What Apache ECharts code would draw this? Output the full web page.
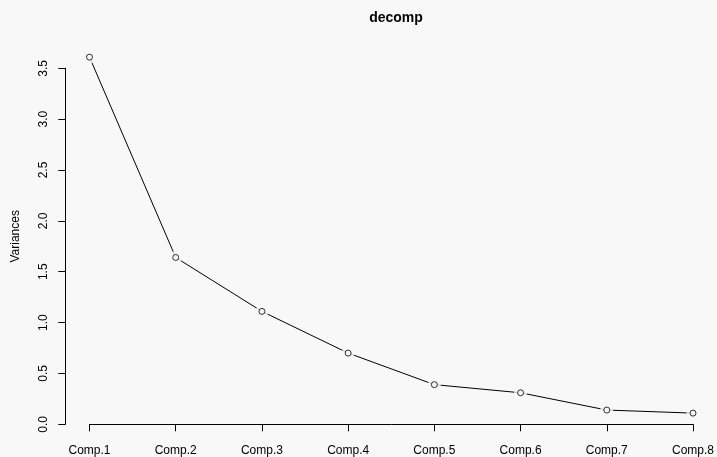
<!DOCTYPE html>
<html>
<head>
<meta charset="utf-8">
<script src="https://cdn.jsdelivr.net/npm/echarts@6/dist/echarts.min.js"></script>
<style>
html,body{margin:0;padding:0;background:#f8f8f8;}
#chart{width:717px;height:457px;}
</style>
</head>
<body>
<div id="chart"></div>
<script>
const chartTitle = 'decomp';
const yAxisName = 'Variances';
const categories = ['Comp.1','Comp.2','Comp.3','Comp.4','Comp.5','Comp.6','Comp.7','Comp.8'];
const variances = [3.61, 1.64, 1.11, 0.70, 0.39, 0.31, 0.14, 0.11];
const yTickValues = [0.0, 0.5, 1.0, 1.5, 2.0, 2.5, 3.0, 3.5];

const BG = '#f8f8f8';
const FONT = 'Liberation Sans, Arial, Helvetica, sans-serif';

const chart = echarts.init(document.getElementById('chart'), null, {renderer: 'canvas'});
chart.setOption({
  backgroundColor: BG,
  animation: false,
  title: {
    text: chartTitle,
    left: 391, top: 6,
    textAlign: 'center',
    textStyle: {fontFamily: FONT, fontWeight: 'bold', fontSize: 14, color: '#000'}
  },
  grid: {left: 89.5, right: 24, top: 68.3, bottom: 32.7, containLabel: false, outerBoundsMode: 'none'},
  xAxis: {
    type: 'category',
    data: categories,
    boundaryGap: false,
    offset: 3,
    axisLine: {lineStyle: {color: '#000', width: 1}},
    axisTick: {length: 7, alignWithLabel: true, lineStyle: {color: '#000'}},
    axisLabel: {interval: 0, margin: 17, fontFamily: FONT, fontSize: 12, color: '#000'},
    splitLine: {show: false}
  },
  yAxis: {
    type: 'value',
    min: yTickValues[0],
    max: yTickValues[yTickValues.length - 1],
    interval: yTickValues[1] - yTickValues[0],
    offset: 24.2,
    name: yAxisName,
    nameLocation: 'middle',
    nameGap: 44,
    nameTextStyle: {fontFamily: FONT, fontSize: 12, color: '#000', padding: [0, 0, 0, 20]},
    axisLine: {show: true, lineStyle: {color: '#000', width: 1}},
    axisTick: {show: true, length: 7, lineStyle: {color: '#000'}},
    axisLabel: {rotate: 90, margin: 16, fontFamily: FONT, fontSize: 12, color: '#000',
      formatter: v => v.toFixed(1)},
    splitLine: {show: false}
  },
  series: [
    {
      type: 'line', data: variances, showSymbol: false, clip: false,
      lineStyle: {color: '#000', width: 1}, z: 2, silent: true
    },
    {
      type: 'scatter', data: variances, symbol: 'circle', symbolSize: 13, clip: false,
      itemStyle: {color: BG, borderWidth: 0}, z: 3, silent: true
    },
    {
      type: 'scatter', data: variances, symbol: 'circle', symbolSize: 6, clip: false,
      itemStyle: {color: BG, borderColor: '#000', borderWidth: 1}, z: 4, silent: true
    }
  ]
});
</script>
</body>
</html>
